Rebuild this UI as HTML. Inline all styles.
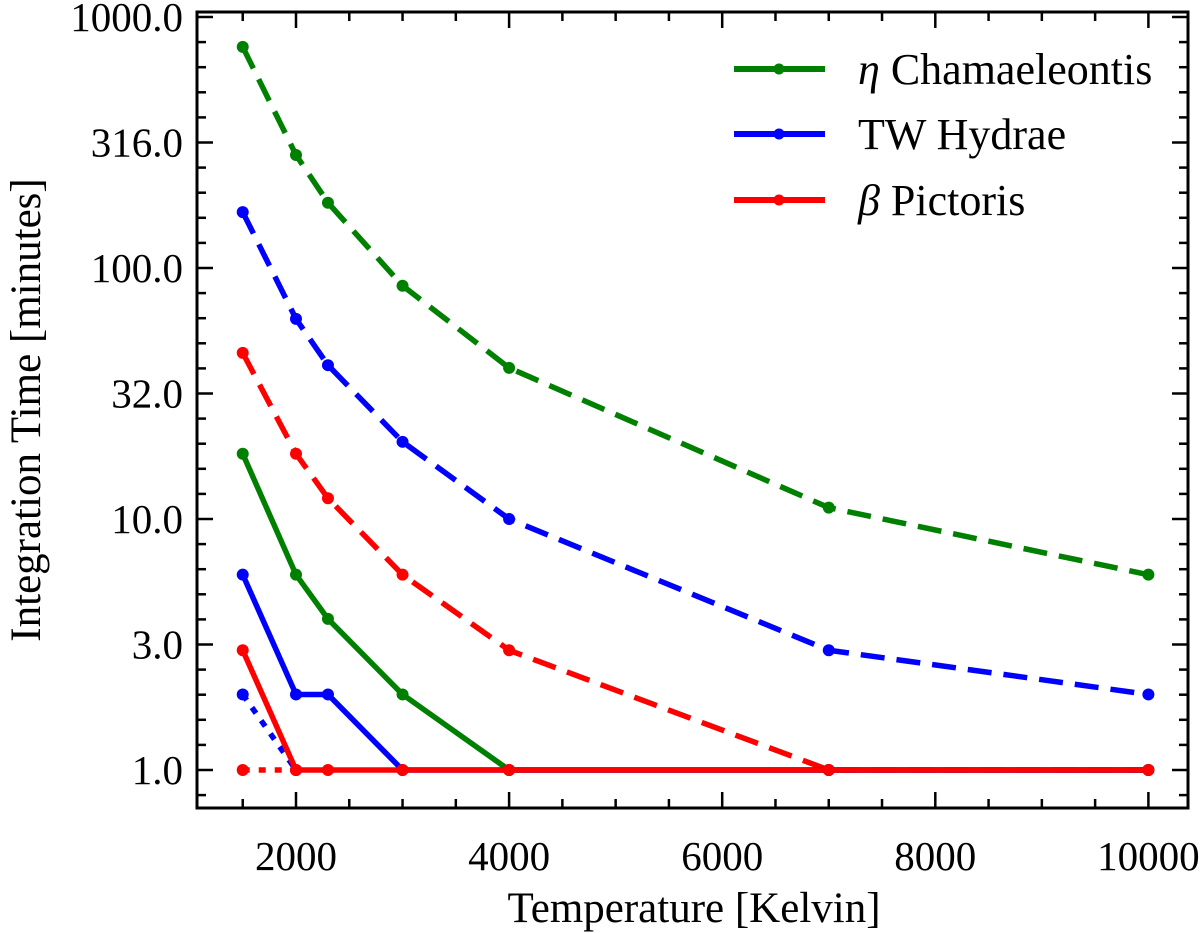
<!DOCTYPE html>
<html><head><meta charset="utf-8"><style>
html,body{margin:0;padding:0;background:#fff}
svg{display:block}
text{font-family:"Liberation Serif","DejaVu Serif",serif;fill:#000}
</style></head><body>
<svg id="chart" width="1200" height="933" viewBox="0 0 1200 933">
<g id="grid"></g>
<g id="series"></g>
<rect x="197" y="12" width="991" height="796" fill="none" stroke="#000" stroke-width="3"/>
<text x="694" y="922" font-size="43" text-anchor="middle">Temperature [Kelvin]</text>
<text transform="translate(40,410) rotate(-90)" font-size="43" text-anchor="middle">Integration Time [minutes]</text>
<g>
<g>
<line x1="734" y1="69" x2="825" y2="69" stroke="#008000" stroke-width="6"/><circle cx="779" cy="69" r="5.5" fill="#008000"/>
<text x="858" y="84" font-size="44"><tspan font-style="italic">η</tspan> Chamaeleontis</text></g>
<g>
<line x1="734" y1="134" x2="825" y2="134" stroke="#0000ff" stroke-width="6"/><circle cx="779" cy="134" r="5.5" fill="#0000ff"/>
<text x="858" y="149" font-size="44">TW Hydrae</text></g>
<g>
<line x1="734" y1="200" x2="825" y2="200" stroke="#ff0000" stroke-width="6"/><circle cx="779" cy="200" r="5.5" fill="#ff0000"/>
<text x="858" y="215" font-size="44"><tspan font-style="italic">β</tspan> Pictoris</text></g>
</g>
</svg>
<script>
const temps = [1500, 2000, 2300, 3000, 4000, 7000, 10000];
const etaDashed = [760, 282, 182, 85, 40, 11.1, 6.0];
const twDashed = [167, 62.7, 41, 20.3, 10, 3.0, 2.0];
const betaDashed = [45.9, 18.2, 12.1, 6.0, 3.0, 1, 1];
const etaSolid = [18.2, 6.0, 4.0, 2.0, 1, 1, 1];
const twSolid = [6.0, 2.0, 2.0, 1, 1, 1, 1];
const betaSolid = [3.0, 1, 1, 1, 1, 1, 1];
const twDotted = [2.0, 1];
const betaDotted = [1, 1];
const xTicks = [2000, 4000, 6000, 8000, 10000];
const yTickVals = [1, 3.1623, 10, 31.623, 100, 316.23, 1000];
const yTickLabels = ["1.0", "3.0", "10.0", "32.0", "100.0", "316.0", "1000.0"];

const NS = "http://www.w3.org/2000/svg";
const L = 197, R = 1188, T = 12, B = 808;
function xs(v){ return 296 + (v - 2000) * 0.10655; }
function ys(v){ return 770 - Math.log10(v) * 251; }
function mk(tag, attrs, parent){ const e = document.createElementNS(NS, tag); for (const k in attrs) e.setAttribute(k, attrs[k]); parent.appendChild(e); return e; }

const grid = document.getElementById('grid');
for (let v = 1500; v <= 10000; v += 500) {
  const x = xs(v); const major = v % 2000 === 0; const len = major ? 16 : 9;
  const t1 = mk('line', {x1:x, y1:B, x2:x, y2:B-len, stroke:'#000', 'stroke-width':2.5}, grid);
  
  
  const t2 = mk('line', {x1:x, y1:T, x2:x, y2:T+len, stroke:'#000', 'stroke-width':2.5}, grid);
  
  
}
xTicks.forEach(v => {
  const t = mk('text', {x:xs(v), y:870, 'font-size':41, 'text-anchor':'middle'}, grid);
  t.textContent = v;
  
  
});
for (let k = -1; k <= 30; k++) {
  const y = ys(Math.pow(10, k / 10)); if (y > B || y < T) continue;
  const major = k % 5 === 0; const len = major ? 16 : 9;
  const t1 = mk('line', {x1:L, y1:y, x2:L+len, y2:y, stroke:'#000', 'stroke-width':2.5}, grid);
  
  
  const t2 = mk('line', {x1:R, y1:y, x2:R-len, y2:y, stroke:'#000', 'stroke-width':2.5}, grid);
  
  
}
yTickVals.forEach((v, i) => {
  const t = mk('text', {x:183, y:ys(v)+14, 'font-size':41, 'text-anchor':'end'}, grid);
  t.textContent = yTickLabels[i];
  
  
});

const sg = document.getElementById('series');
function draw(vals, color, dash, name){
  const g = mk('g', {}, sg);
  
  
  const pts = vals.map((v, i) => xs(temps[i]) + ',' + ys(v)).join(' ');
  const attrs = {points:pts, fill:'none', stroke:color, 'stroke-width':5.5, 'stroke-linejoin':'round'};
  if (dash) attrs['stroke-dasharray'] = dash;
  mk('polyline', attrs, g);
  vals.forEach((v, i) => {
    const c = mk('circle', {cx:xs(temps[i]), cy:ys(v), r:6, fill:color}, g);
    
    
  });
}
draw(etaDashed, '#008000', '24,12', 'eta-chamaeleontis-dashed');
draw(twDashed, '#0000ff', '24,12', 'tw-hydrae-dashed');
draw(betaDashed, '#ff0000', '24,12', 'beta-pictoris-dashed');
draw(twDotted, '#0000ff', '7,9', 'tw-hydrae-dotted');
draw(betaDotted, '#ff0000', '7,9', 'beta-pictoris-dotted');
draw(etaSolid, '#008000', null, 'eta-chamaeleontis-solid');
draw(twSolid, '#0000ff', null, 'tw-hydrae-solid');
draw(betaSolid, '#ff0000', null, 'beta-pictoris-solid');
</script>
</body></html>
